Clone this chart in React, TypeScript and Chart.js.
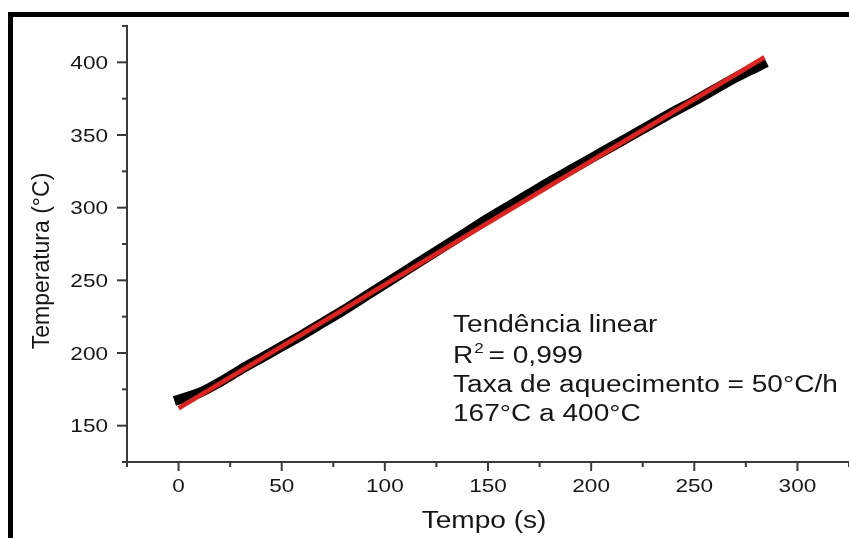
import React, { useEffect, useRef } from 'react';
import { Chart, registerables } from 'chart.js';

Chart.register(...registerables);

// Measured curve (black)
const timeS = [-2, 10, 20, 30, 40, 50, 60, 70, 80, 90, 100, 110, 120, 130, 140, 150, 160, 170, 180, 190, 200, 210, 220, 230, 240, 250, 260, 270, 280, 285];
const tempC = [167, 172.5, 180, 188.5, 196.5, 204.5, 212.5, 221, 229.5, 238.5, 247.5, 256.5, 265.5, 274.5, 283.5, 292.5, 301, 309.5, 318, 326, 334, 342, 350, 358, 366, 373.5, 381.5, 389.5, 396.5, 400];

// Linear trend (red)
const fitTimeS = [0, 284];
const fitTempC = [162, 403.5];

// Labelled ticks
const xTickLabels = [0, 50, 100, 150, 200, 250, 300];
const yTickLabels = [150, 200, 250, 300, 350, 400];

const xTitle = 'Tempo (s)';
const yTitle = 'Temperatura (°C)';
const annotationLines = ['Tendência linear', 'R', '2', ' = 0,999', 'Taxa de aquecimento = 50°C/h', '167°C a 400°C'];

const FONT = '"Liberation Sans", Arial, Helvetica, sans-serif';
const SX = 1.22;
const TEXT = '#161616';
const AXIS = '#3a3a3a';

function sText(ctx: CanvasRenderingContext2D, text: string, x: number, y: number, size: number, align: 'left' | 'center' | 'right' = 'left') {
  ctx.save();
  ctx.font = `${size}px ${FONT}`;
  const w = ctx.measureText(text).width * SX;
  let left = x;
  if (align === 'center') left = x - w / 2;
  else if (align === 'right') left = x - w;
  ctx.translate(left, y);
  ctx.scale(SX, 1);
  ctx.textAlign = 'left';
  ctx.textBaseline = 'alphabetic';
  ctx.fillStyle = TEXT;
  ctx.fillText(text, 0, 0);
  ctx.restore();
  return w;
}

const decorPlugin = {
  id: 'decor',
  beforeDraw(chart: any) {
    const ctx = chart.ctx as CanvasRenderingContext2D;
    ctx.save();
    ctx.fillStyle = '#ffffff';
    ctx.fillRect(0, 0, chart.width, chart.height);
    ctx.strokeStyle = '#000000';
    ctx.lineWidth = 5;
    ctx.strokeRect(10.5, 14.5, 2000, 2000);
    ctx.restore();
  },
  afterDraw(chart: any) {
    const ctx = chart.ctx as CanvasRenderingContext2D;
    const { left, bottom } = chart.chartArea;
    const xs = chart.scales.x;
    const ys = chart.scales.y;
    ctx.save();
    ctx.strokeStyle = AXIS;
    ctx.lineWidth = 2;
    xs.ticks.forEach((t: any) => {
      const px = xs.getPixelForValue(t.value);
      const major = xTickLabels.includes(t.value);
      const len = major ? 9 : 5;
      ctx.beginPath();
      ctx.moveTo(px, bottom);
      ctx.lineTo(px, bottom + len);
      ctx.stroke();
      if (major) sText(ctx, String(t.label), px, bottom + 30, 18.5, 'center');
    });
    ys.ticks.forEach((t: any) => {
      const py = ys.getPixelForValue(t.value);
      const major = yTickLabels.includes(t.value);
      const len = major ? 10 : 5;
      ctx.beginPath();
      ctx.moveTo(left, py);
      ctx.lineTo(left - len, py);
      ctx.stroke();
      if (major) sText(ctx, String(t.label), left - 19, py + 6.5, 18.5, 'right');
    });
    ctx.restore();

    // axis titles
    sText(ctx, xTitle, (chart.chartArea.left + chart.chartArea.right) / 2 - 4, 528, 23, 'center');
    ctx.save();
    ctx.translate(49, 261);
    ctx.rotate(-Math.PI / 2);
    ctx.font = `23px ${FONT}`;
    ctx.fillStyle = TEXT;
    ctx.textAlign = 'center';
    ctx.textBaseline = 'alphabetic';
    ctx.fillText(yTitle, 0, 0);
    ctx.restore();

    // annotation
    const ax = 453;
    sText(ctx, annotationLines[0], ax, 332, 23);
    const wR = sText(ctx, annotationLines[1], ax, 363, 23);
    const w2 = sText(ctx, annotationLines[2], ax + wR + 1, 353, 14);
    sText(ctx, annotationLines[3], ax + wR + w2 - 2, 363, 23);
    sText(ctx, annotationLines[4], ax, 392, 23);
    sText(ctx, annotationLines[5], ax, 421, 23);
  },
};

export default function App() {
  const ref = useRef<HTMLCanvasElement | null>(null);
  useEffect(() => {
    if (!ref.current) return;
    const measured = timeS.map((t, i) => ({ x: t, y: tempC[i] }));
    const fit = fitTimeS.map((t, i) => ({ x: t, y: fitTempC[i] }));
    const chart = new Chart(ref.current, {
      type: 'line',
      data: {
        datasets: [
          {
            label: 'Tendência linear',
            data: fit,
            borderColor: '#e3211c',
            borderWidth: 4.5,
            pointRadius: 0,
            tension: 0,
            borderCapStyle: 'butt',
            order: 0,
          },
          {
            label: 'Temperatura',
            data: measured,
            borderColor: '#000000',
            borderWidth: 10,
            pointRadius: 0,
            tension: 0.3,
            borderCapStyle: 'butt',
            order: 1,
          },
        ],
      },
      options: {
        animation: false,
        responsive: true,
        maintainAspectRatio: false,
        layout: { padding: { top: 26, left: 0, right: 0, bottom: 0 } },
        plugins: { legend: { display: false }, tooltip: { enabled: false } },
        scales: {
          x: {
            type: 'linear',
            min: -25,
            max: 325,
            ticks: {
              display: false,
              stepSize: 25,
              callback: (v: any) => (xTickLabels.includes(Number(v)) ? String(v) : ''),
            },
            grid: { display: false, drawTicks: false },
            border: { display: true, color: AXIS, width: 2 },
            afterFit: (s: any) => { s.height = 76; },
          },
          y: {
            type: 'linear',
            min: 125,
            max: 425,
            ticks: {
              display: false,
              stepSize: 25,
              callback: (v: any) => (yTickLabels.includes(Number(v)) ? String(v) : ''),
            },
            grid: { display: false, drawTicks: false },
            border: { display: true, color: AXIS, width: 2 },
            afterFit: (s: any) => { s.width = 127; },
          },
        },
      },
      plugins: [decorPlugin],
    });
    return () => chart.destroy();
  }, []);
  return (
    <div style={{ position: 'absolute', left: 0, top: 0, width: 849, height: 538 }}>
      <canvas ref={ref} />
    </div>
  );
}
